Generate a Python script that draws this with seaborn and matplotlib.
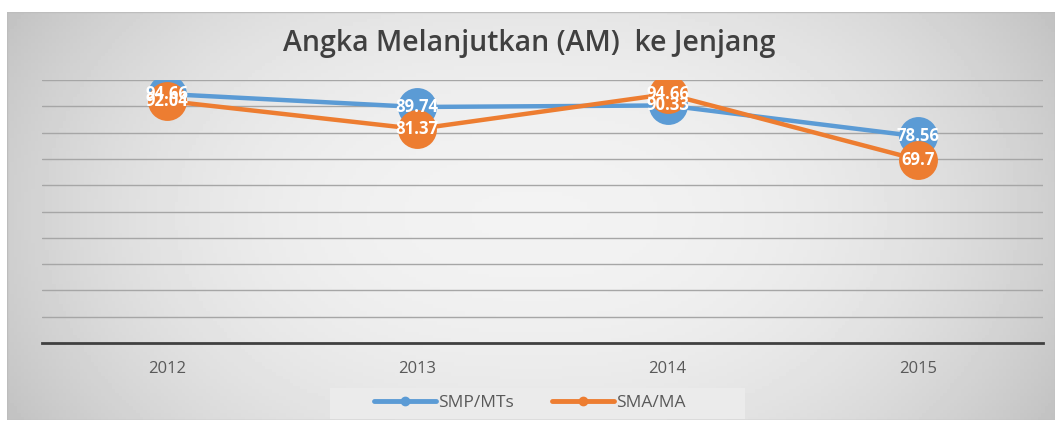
import numpy as np
import pandas as pd
import matplotlib
matplotlib.use("Agg")
import matplotlib.pyplot as plt
from matplotlib.lines import Line2D
from matplotlib.patches import Rectangle
import seaborn as sns

years = ["2012", "2013", "2014", "2015"]
smp_mts = [94.66, 89.74, 90.33, 78.56]
sma_ma = [92.04, 81.37, 94.66, 69.7]
smp_labels = ["94.66", "89.74", "90.33", "78.56"]
sma_labels = ["92.04", "81.37", "94.66", "69.7"]
series_names = ["SMP/MTs", "SMA/MA"]
colors = ["#5B9BD5", "#ED7D31"]

df = pd.DataFrame({
    "tahun": years * 2,
    "nilai": smp_mts + sma_ma,
    "jenjang": [series_names[0]] * 4 + [series_names[1]] * 4,
})
df["x"] = df["tahun"].map({y: i for i, y in enumerate(years)})

sns.set_style("white")
plt.rcParams["font.family"] = ["Open Sans", "DejaVu Sans"]

fig = plt.figure(figsize=(10.59, 4.25), dpi=100)

# gray gradient background panel
bg = fig.add_axes([7 / 1059, 1 - 420 / 425, 1048 / 1059, 408 / 425])
xx = np.linspace(-1, 1, 300)
yy = np.linspace(-1, 1, 120)
X, Y = np.meshgrid(xx, yy)
grad = 0.95 - 0.14 * (X ** 2) ** 1.2 - 0.05 * Y ** 2
bg.imshow(grad, cmap="gray", vmin=0, vmax=1, aspect="auto", extent=[0, 1, 0, 1])
bg.add_patch(Rectangle((0, 0), 1, 1, fill=False, ec="#bdbdbd", lw=1, transform=bg.transAxes))
bg.set_axis_off()

# light box behind the legend
fig.patches.append(Rectangle((330 / 1059, 1 - 419 / 425), 415 / 1059, 31 / 425,
                             transform=fig.transFigure, fc="#ebebeb", ec="none", zorder=1))

ax = fig.add_axes([42 / 1059, 1 - 343 / 425, 1001 / 1059, 263 / 425])
ax.patch.set_alpha(0)

sns.lineplot(data=df, x="x", y="nilai", hue="jenjang", palette=colors,
             marker="o", markersize=28, markeredgewidth=0, linewidth=3.2,
             ax=ax, legend=False, zorder=3)

# value labels (they overlap in the original too)
for vals, labs in [(smp_mts, smp_labels), (sma_ma, sma_labels)]:
    for i, (v, t) in enumerate(zip(vals, labs)):
        ax.text(i, v, t, color="white", fontsize=12, fontweight="bold",
                ha="center", va="center", zorder=5)

ax.set_xlim(-0.5, 3.5)
ax.set_ylim(0, 100)
ax.set_yticks(np.arange(10, 101, 10))
ax.set_yticklabels([])
ax.grid(axis="y", color="#a6a6a6", lw=1)
ax.set_xticks(range(4))
ax.set_xticklabels(years, color="#595959", fontsize=12)
ax.tick_params(axis="both", length=0, pad=13)
for s in ["top", "right", "left"]:
    ax.spines[s].set_visible(False)
ax.spines["bottom"].set_color("#404040")
ax.spines["bottom"].set_linewidth(2)
ax.set_xlabel("")
ax.set_ylabel("")

fig.text(0.5, 1 - 44 / 425, "Angka Melanjutkan (AM)  ke Jenjang", ha="center",
         va="center", fontsize=20.5, fontweight="semibold", color="#404040")

handles = [Line2D([0], [0], color=c, lw=3.5, marker="o", markersize=6) for c in colors]
leg = fig.legend(handles, series_names, loc="center", bbox_to_anchor=(0.5, 1 - 403 / 425),
                 ncol=2, frameon=False, fontsize=12.5, handlelength=3.6, handletextpad=0.1,
                 columnspacing=2.2, borderaxespad=0)
for t in leg.get_texts():
    t.set_color("#595959")

fig.savefig("out.png", dpi=100)
